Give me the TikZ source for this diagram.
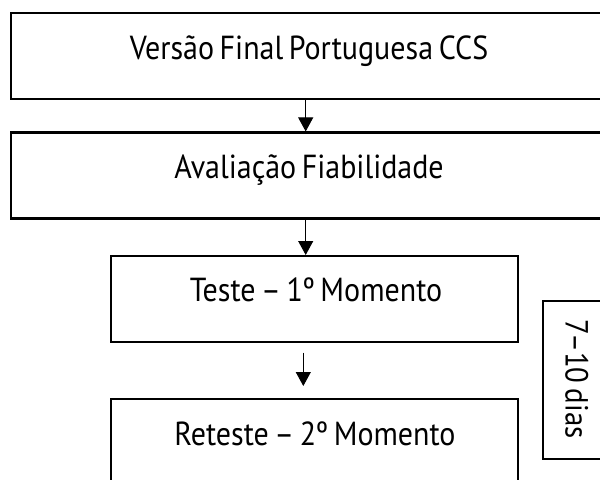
\documentclass[tikz,border=0pt]{standalone}
\usepackage{fontspec}
\setmainfont{PT Sans}[FakeStretch=0.9, WordSpace=0.7]
\usetikzlibrary{arrows.meta}
\tikzset{
  boxa/.style={draw=black, line width=1.5pt, rectangle, inner sep=0pt},
  boxb/.style={draw=black, line width=1.9pt, rectangle, inner sep=0pt},
  lbl/.style={inner sep=0pt, anchor=base, font=\fontsize{25pt}{30pt}\selectfont},
  arr/.style={line width=0.75pt, -{Triangle[length=10.5pt,width=11.25pt]}},
}
\begin{document}
\begin{tikzpicture}[x=0.75pt, y=-0.75pt]
\path[use as bounding box, clip] (0,0) rectangle (600,479);
% boxes (some run past the picture's edge)
\node[boxa, minimum width=609*0.75pt, minimum height=86*0.75pt] (b1) at (315.5,56) {};
\node[boxb, minimum width=609*0.75pt, minimum height=86*0.75pt] (b2) at (315.5,175.7) {};
\node[boxa, minimum width=406.7*0.75pt, minimum height=86*0.75pt] (b3) at (314.35,299) {};
\node[boxa, minimum width=406.7*0.75pt, minimum height=110*0.75pt] (b4) at (314.35,454) {};
\node[boxa, minimum width=80*0.75pt, minimum height=158.6*0.75pt] (side) at (583.3,380) {};
% labels
\node[lbl] (t1) at (309,59) {Versão Final Portuguesa CCS};
\node[lbl] (t2) at (309,178.3) {Avaliação Fiabilidade};
\node[lbl] (t3) at (316,301.7) {Teste – 1º Momento};
\node[lbl] (t4) at (315,445) {Reteste – 2º Momento};
\node[inner sep=0pt, rotate=-90, font=\fontsize{24pt}{29pt}\selectfont] (t5) at (576.7,379) {7–10 dias};
% connectors
\coordinate (ax) at (305.7,0);
\coordinate (bx) at (303.3,0);
\coordinate (s3) at (303.3,352.7);
\coordinate (e3) at (303.3,386);
\draw[arr] (b1.south -| ax) -- (b2.north -| ax);
\draw[arr] (b2.south -| ax) -- (b3.north -| ax);
\draw[arr] (s3) -- (e3);
\end{tikzpicture}
\end{document}
